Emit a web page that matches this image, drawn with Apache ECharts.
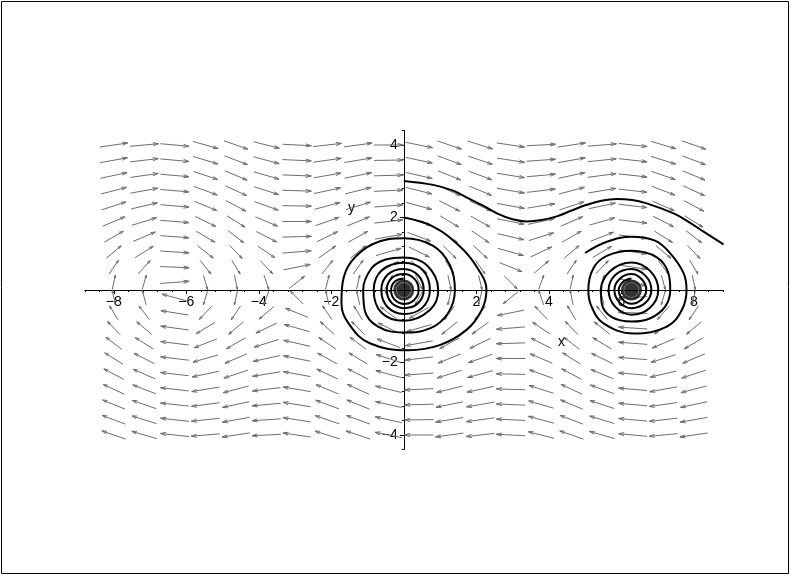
<!DOCTYPE html>
<html>
<head>
<meta charset="utf-8">
<script src="https://cdn.jsdelivr.net/npm/echarts@6/dist/echarts.min.js"></script>
<style>
  html, body { margin: 0; padding: 0; background: #fff; }
  #chart { width: 791px; height: 576px; }
</style>
</head>
<body>
<div id="chart"></div>
<script>
// damped pendulum: x' = y, y' = -sin(x) - damping * y
const damping = 0.1

// arrow grid (20 x 20)
const fieldXs = [-8, -7.16, -6.32, -5.47, -4.63, -3.79, -2.95, -2.11, -1.26, -0.42,
  0.42, 1.26, 2.11, 2.95, 3.79, 4.63, 5.47, 6.32, 7.16, 8]
const fieldYs = [-4, -3.58, -3.16, -2.74, -2.32, -1.89, -1.47, -1.05, -0.63, -0.21,
  0.21, 0.63, 1.05, 1.47, 1.89, 2.32, 2.74, 3.16, 3.58, 4]

const xTicks = [-8, -6, -4, -2, 2, 4, 6, 8]
const yTicks = [-4, -2, 2, 4]

// trajectories
const orbitUpper = [
  [0, 3.01], [0.81, 2.9], [1.36, 2.74], [1.8, 2.52], [2.2, 2.32], [2.6, 2.1], [3.0, 1.95],
  [3.39, 1.89], [3.8, 1.93], [4.22, 2.03], [4.65, 2.2], [5.05, 2.35], [5.45, 2.46],
  [5.88, 2.51], [6.3, 2.48], [6.7, 2.39], [7.1, 2.25], [7.53, 2.07], [7.9, 1.85],
  [8.27, 1.61], [8.55, 1.43], [8.82, 1.26]
]
const orbitOrigin = [
  [0, 2.0], [0.81, 1.75], [1.55, 1.2], [2.01, 0.64], [2.28, 0], [2.15, -0.55],
  [1.73, -1.1], [0.99, -1.52], [0.12, -1.66], [-0.94, -1.47], [-1.49, -0.97],
  [-1.72, -0.37], [-1.69, 0.18], [-1.45, 0.78], [-0.85, 1.27], [0, 1.43],
  [0.81, 1.22], [1.27, 0.69], [1.41, 0], [1.22, -0.64], [0.72, -1.06], [0, -1.17],
  [-0.71, -1.01], [-1.08, -0.55], [-1.12, 0], [-0.89, 0.6], [-0.5, 0.84], [0, 0.9],
  [0.63, 0.69], [0.95, 0], [0.72, -0.55], [0, -0.85], [-0.62, -0.62], [-0.83, 0],
  [-0.6, 0.55], [0, 0.75], [0.52, 0.55], [0.72, 0], [0.5, -0.5], [0, -0.66],
  [-0.45, -0.47], [-0.62, 0], [-0.44, 0.43], [0, 0.58], [0.4, 0.4], [0.55, 0],
  [0.38, -0.38], [0, -0.5], [-0.34, -0.35], [-0.47, 0], [-0.33, 0.33], [0, 0.44],
  [0.3, 0.3], [0.41, 0], [0.28, -0.28], [0, -0.38], [-0.26, -0.26], [-0.35, 0],
  [-0.24, 0.24], [0, 0.32]
]
const orbitRight = [
  [5.0, 1.02], [5.6, 1.33], [6.29, 1.47], [6.93, 1.36], [7.35, 1.01], [7.72, 0.46],
  [7.8, 0], [7.67, -0.55], [7.26, -1.01], [6.34, -1.2], [5.51, -0.92], [5.18, -0.46],
  [5.09, 0], [5.23, 0.6], [5.6, 0.94], [6.29, 1.08], [6.98, 0.9], [7.3, 0.46],
  [7.35, 0], [7.21, -0.46], [6.8, -0.78], [6.29, -0.87], [5.74, -0.75], [5.46, -0.37],
  [5.44, 0], [5.69, 0.52], [6.28, 0.76], [6.8, 0.52], [7.02, 0], [6.8, -0.48],
  [6.28, -0.68], [5.83, -0.46], [5.65, 0], [5.84, 0.42], [6.28, 0.58], [6.67, 0.39],
  [6.83, 0], [6.66, -0.36], [6.28, -0.5], [5.95, -0.34], [5.81, 0], [5.96, 0.31],
  [6.28, 0.44], [6.57, 0.29], [6.69, 0], [6.55, -0.27], [6.28, -0.38], [6.03, -0.25],
  [5.93, 0], [6.05, 0.23], [6.28, 0.32]
]
const equilibria = [[0, 0], [6.28, 0]]

const cellX = 16 / 19
const cellY = 8 / 19
const minus = v => (v < 0 ? '\u2212' + (-v) : String(v))
const font = 'Liberation Sans, Arial, sans-serif'

// plot box; axes are moved onto x = 0 / y = 0 with offsets
const box = { left: 84.8, top: 130.5, width: 638, height: 319 }
const xMin = -8.8, xMax = 8.8, yMin = -4.4, yMax = 4.4
const xOffset = -box.height * (0 - yMin) / (yMax - yMin)
const yOffset = -box.width * (0 - xMin) / (xMax - xMin)

const xMinor = []
for (let k = -22; k <= 22; k++) xMinor.push(+(k * 0.4).toFixed(1))
const yMinor = []
for (let k = -11; k <= 11; k++) yMinor.push(+(k * 0.4).toFixed(1))

const fieldData = []
fieldXs.forEach(x => fieldYs.forEach(y => fieldData.push([x, y])))

function renderArrow(params, api) {
  const x = api.value(0)
  const y = api.value(1)
  const u = y
  const v = -Math.sin(x) - damping * y
  const s = 0.95 / Math.hypot(u / cellX, v / cellY)
  const p0 = api.coord([x - u * s / 2, y - v * s / 2])
  const p1 = api.coord([x + u * s / 2, y + v * s / 2])
  const len = Math.hypot(p1[0] - p0[0], p1[1] - p0[1])
  const ang = Math.atan2(p1[1] - p0[1], p1[0] - p0[0])
  const h = len * 0.2
  const b1 = [p1[0] - h * Math.cos(ang - 0.28), p1[1] - h * Math.sin(ang - 0.28)]
  const b2 = [p1[0] - h * Math.cos(ang + 0.28), p1[1] - h * Math.sin(ang + 0.28)]
  const style = { stroke: '#6e6e6e', lineWidth: 1, fill: null }
  return {
    type: 'group',
    children: [
      { type: 'polyline', shape: { points: [p0, p1] }, style },
      { type: 'polyline', shape: { points: [b1, p1, b2] }, style }
    ]
  }
}

const chart = echarts.init(document.getElementById('chart'))
const orbitStyle = { color: '#000', width: 2 }
const noSplit = { show: false }
chart.setOption({
  animation: false,
  backgroundColor: '#fff',
  grid: box,
  xAxis: [
    {
      type: 'value', min: xMin, max: xMax, position: 'bottom', offset: xOffset,
      axisLine: { onZero: false, lineStyle: { color: '#000', width: 1 } },
      axisTick: { customValues: xTicks, length: 4, lineStyle: { color: '#000' } },
      axisLabel: { customValues: xTicks, formatter: minus, color: '#000', fontSize: 14, fontFamily: font, margin: 5 },
      splitLine: noSplit
    },
    {
      type: 'value', min: xMin, max: xMax, position: 'bottom', offset: xOffset,
      axisLine: { show: false, onZero: false },
      axisTick: { customValues: xMinor, length: 2, lineStyle: { color: '#000' } },
      axisLabel: { show: false },
      splitLine: noSplit
    }
  ],
  yAxis: [
    {
      type: 'value', min: yMin, max: yMax, position: 'left', offset: yOffset,
      axisLine: { onZero: false, lineStyle: { color: '#000', width: 1 } },
      axisTick: { customValues: yTicks, length: 4, lineStyle: { color: '#000' } },
      axisLabel: { customValues: yTicks, formatter: minus, color: '#000', fontSize: 14, fontFamily: font, margin: 6 },
      splitLine: noSplit
    },
    {
      type: 'value', min: yMin, max: yMax, position: 'left', offset: yOffset,
      axisLine: { show: false, onZero: false },
      axisTick: { customValues: yMinor, length: 2, lineStyle: { color: '#000' } },
      axisLabel: { show: false },
      splitLine: noSplit
    }
  ],
  series: [
    { type: 'custom', renderItem: renderArrow, data: fieldData, silent: true },
    { type: 'line', data: orbitUpper, smooth: 0.4, showSymbol: false, lineStyle: orbitStyle },
    { type: 'line', data: orbitOrigin, smooth: 0.4, showSymbol: false, lineStyle: orbitStyle },
    { type: 'line', data: orbitRight, smooth: 0.4, showSymbol: false, lineStyle: orbitStyle },
    { type: 'scatter', data: equilibria, symbolSize: 21, itemStyle: { color: '#000' } },
    {
      type: 'scatter', data: equilibria, symbolSize: 15, silent: true,
      itemStyle: { color: 'transparent', borderColor: '#bbb', borderWidth: 0.6 }
    }
  ],
  graphic: [
    { type: 'rect', shape: { x: 1.5, y: 1.5, width: 787, height: 572 }, style: { fill: null, stroke: '#000', lineWidth: 1 } },
    { type: 'text', left: 348, top: 201, style: { text: 'y', font: '14px ' + font, fill: '#000' } },
    { type: 'text', left: 558, top: 335, style: { text: 'x', font: '14px ' + font, fill: '#000' } }
  ]
})
</script>
</body>
</html>
